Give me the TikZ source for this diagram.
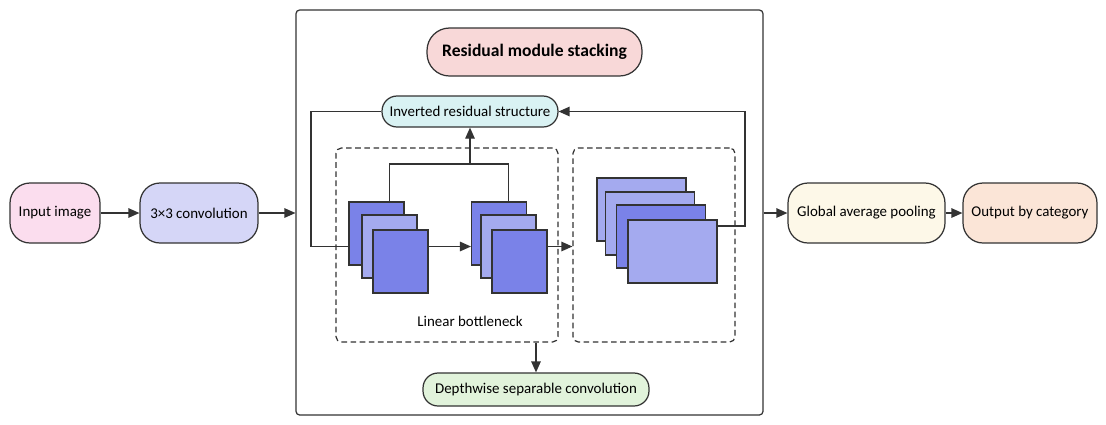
\documentclass[tikz,border=0pt]{standalone}
\usepackage{fontspec}
\setmainfont{Carlito}
\usetikzlibrary{arrows.meta,positioning,calc}

\definecolor{inpink}{HTML}{FBDDEE}
\definecolor{convlav}{HTML}{D5D6F7}
\definecolor{titlered}{HTML}{F8D8D8}
\definecolor{invcyan}{HTML}{D9F2F3}
\definecolor{dwgreen}{HTML}{E1F3DB}
\definecolor{gapcream}{HTML}{FDF8E8}
\definecolor{outpeach}{HTML}{FBE5D7}
\definecolor{fmdark}{HTML}{7A82E8}
\definecolor{fmlight}{HTML}{A4AAEF}
\definecolor{edge}{HTML}{333333}

\begin{document}
\begin{tikzpicture}[x=0.02cm, y=-0.02cm,
    block/.style={draw=edge, line width=0.7pt, rounded corners=0.4cm, minimum height=1.2cm, align=center, font=\fontsize{8.5}{10}\selectfont},
    tag/.style={draw=edge, line width=0.7pt, rounded corners=0.3cm, minimum height=0.64cm, align=center, font=\fontsize{8.5}{10}\selectfont},
    dashbox/.style={draw=edge, line width=0.7pt, dash pattern=on 3.2pt off 2pt, rounded corners=3pt, minimum height=3.88cm},
    fmap/.style={draw=edge, line width=0.6pt, minimum width=1.1cm, minimum height=1.26cm, inner sep=0pt},
    wmap/.style={draw=edge, line width=0.6pt, minimum width=1.78cm, minimum height=1.26cm, inner sep=0pt, fill=fmlight},
    line/.style={draw=edge, line width=0.7pt},
    arr/.style={line, -{Triangle[length=2.2mm, width=1.9mm]}}
]
\useasboundingbox (0,0) rectangle (1106,424);

% outer frame and the module inside it
\node[draw=edge, line width=0.7pt, rounded corners=2pt, minimum width=9.34cm, minimum height=8.1cm] (frame) at (529.5,212.5) {};
\node[tag, fill=titlered, rounded corners=0.45cm, minimum width=4.3cm, minimum height=0.96cm, font=\fontsize{10}{12}\selectfont\bfseries] (title) at (534.5,52) {Residual module stacking};
\node[tag, fill=invcyan, minimum width=3.52cm, minimum height=0.62cm] (inv) at (470,111.5) {Inverted residual structure};
\node[dashbox, minimum width=4.44cm] (lb) at (447,245) {};
\node[dashbox, minimum width=3.24cm] (wb) at (654,245) {};
\node[font=\fontsize{8.5}{10}\selectfont] (lblab) at (470,321) {Linear bottleneck};
\node[tag, fill=dwgreen, minimum width=4.52cm, minimum height=0.66cm] (dw) at (536,389.5) {Depthwise separable convolution};

% left skip line (behind the maps)
\coordinate (lp) at (311,246.5);
\draw[line] (inv.west) -| (lp) -- (349,246.5);

% feature maps
\node[fmap, fill=fmdark] (a1) at (376.5,233.5) {};
\node[fmap, fill=fmlight] (a2) at (389.5,246.5) {};
\node[fmap, fill=fmdark] (a3) at (400.5,261.5) {};
\node[fmap, fill=fmdark] (b1) at (499,233.5) {};
\node[fmap, fill=fmlight] (b2) at (508.5,246.5) {};
\node[fmap, fill=fmdark] (b3) at (519.5,261.5) {};
\node[wmap] (c1) at (641.5,209.5) {};
\node[wmap] (c2) at (650,223.5) {};
\node[wmap, fill=fmdark] (c3) at (661,236.5) {};
\node[wmap] (c4) at (672.5,251.5) {};

% outer chain
\node[block, fill=inpink, minimum width=1.8cm] (inp) at (55,213) {Input image};
\node[block, fill=convlav, minimum width=2.36cm] (conv) at (199,213) {3×3 convolution};
\node[block, fill=gapcream, minimum width=3.14cm] (gap) at (866.5,213) {Global average pooling};
\node[block, fill=outpeach, minimum width=2.68cm] (out) at (1030,213) {Output by category};

\draw[arr] (inp) -- (conv);
\draw[arr] (conv.east) -- (conv.east -| frame.west);
\draw[arr] (frame.east |- gap) -- (gap.west);
\draw[arr] (gap) -- (out);

\draw[arr] (a3.east |- a2) -- (b1.west |- a2);
\draw[arr] (b3.east |- b2) -- (wb.west |- b2);
\coordinate (br) at (470,164);
\draw[line] (a2 |- a1.north) |- (br) -| (b2 |- b1.north);
\draw[arr] (br) -- (inv.south);
\coordinate (rp) at (745,226);
\draw[arr] (c4.east |- rp) -- (rp) |- (inv.east);
\draw[arr] (dw.north |- lb.south) -- (dw.north);
\end{tikzpicture}
\end{document}
